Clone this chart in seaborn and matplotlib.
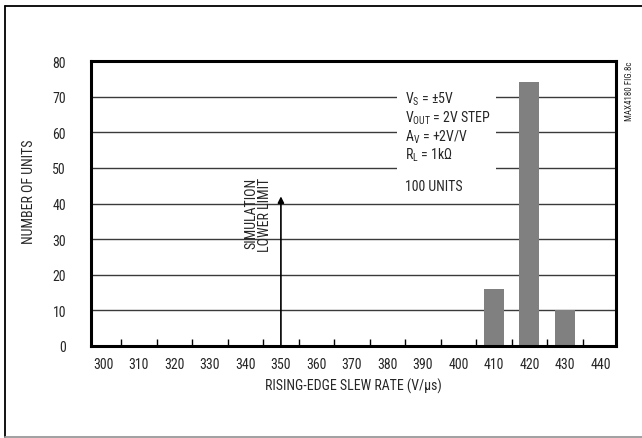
import matplotlib
matplotlib.use("Agg")
import matplotlib.pyplot as plt
import seaborn as sns
import numpy as np
from matplotlib.lines import Line2D
from matplotlib.patches import Rectangle
from matplotlib.ticker import FixedLocator
from matplotlib import font_manager

# ---- data ----
slew_rates = [410, 420, 430]
unit_counts = [16, 74, 10]
x_tick_labels = [300, 310, 320, 330, 340, 350, 360, 370, 380, 390, 400, 410, 420, 430, 440]
y_tick_labels = [0, 10, 20, 30, 40, 50, 60, 70, 80]
sim_lower_limit = 350
sim_arrow_top = 42
conditions = [r"V$_\mathregular{S}$ = ±5V",
              r"V$_\mathregular{OUT}$ = 2V STEP",
              r"A$_\mathregular{V}$ = +2V/V",
              r"R$_\mathregular{L}$ = 1kΩ"]
units_note = "100 UNITS"

sns.set_style("white")
names = {f.name for f in font_manager.fontManager.ttflist}
fams = [n for n in ['Roboto Condensed', 'Liberation Sans Narrow', 'Arial Narrow',
                    'Liberation Sans', 'DejaVu Sans'] if n in names or n == 'DejaVu Sans']
plt.rcParams['font.family'] = fams
plt.rcParams['mathtext.default'] = 'regular'
narrow = fams[0] in ('Roboto Condensed', 'Liberation Sans Narrow', 'Arial Narrow')
FS = 10 if narrow else 8.6

W, H = 642, 439
fig = plt.figure(figsize=(W / 100, H / 100), dpi=100)
ax = fig.add_axes([91 / W, 1 - 347 / H, (616 - 91) / W, (347 - 62) / H])

sns.barplot(x=slew_rates, y=unit_counts, native_scale=True, width=0.56,
            color='#808080', saturation=1, ax=ax, zorder=3, edgecolor='none')

ax.set_xlim(296.5, 444.4)
ax.set_ylim(0, 80)

for yv in y_tick_labels[1:-1]:
    ax.axhline(yv, color='#3a3a3a', lw=1.0, zorder=1)

ax.add_patch(Rectangle((382.7, 43), 28.0, 34, facecolor='white', edgecolor='none', zorder=2))

ax.xaxis.set_major_locator(FixedLocator(x_tick_labels))
ax.set_xticklabels([str(v) for v in x_tick_labels])
ax.xaxis.set_minor_locator(FixedLocator([v + 5 for v in x_tick_labels[:-1]]))
ax.tick_params(axis='x', which='major', length=0, pad=8, labelsize=FS)
ax.tick_params(axis='x', which='minor', direction='in', length=5, width=1, color='black', bottom=True)
ax.yaxis.set_major_locator(FixedLocator(y_tick_labels))
ax.set_yticklabels([str(v) for v in y_tick_labels])
ax.tick_params(axis='y', length=0, pad=18, labelsize=FS)
ax.set_xlabel("")
ax.set_ylabel("")

for s in ax.spines.values():
    s.set_visible(True)
    s.set_linewidth(2.2)
    s.set_color('black')
    s.set_zorder(5)

ax.annotate('', xy=(sim_lower_limit, sim_arrow_top), xytext=(sim_lower_limit, 0),
            arrowprops=dict(arrowstyle='-|>', color='black', lw=1.2, mutation_scale=9,
                            shrinkA=0, shrinkB=0), zorder=4)
ax.text(343.6, 47.5, "SIMULATION\nLOWER LIMIT", rotation=90, ha='center', va='top',
        multialignment='right', fontsize=FS, linespacing=1.0, zorder=4)

cond_y = [69.4, 64.2, 59.0, 53.7]
for t, yv in zip(conditions, cond_y):
    ax.text(385.0, yv, t, ha='left', va='center', fontsize=FS, zorder=4)
ax.text(385.0, 45.0, units_note, ha='left', va='center', fontsize=FS, zorder=4)

fig.text(29 / W, 1 - 192 / H, "NUMBER OF UNITS", rotation=90, ha='center', va='center', fontsize=FS)
fig.text(353 / W, 1 - 386 / H, "RISING-EDGE SLEW RATE (V/μs)", ha='center', va='center', fontsize=FS)
fig.text(630 / W, 1 - 91 / H, "MAX4180 FIG.8c", rotation=90, ha='center', va='center', fontsize=6.5)

fig.add_artist(Line2D([5 / W, 1.0], [1 - 7 / H, 1 - 7 / H], transform=fig.transFigure, color='black', lw=1.3))
fig.add_artist(Line2D([5 / W, 5 / W], [1 - 7 / H, 1 - 438 / H], transform=fig.transFigure, color='black', lw=1.3))
fig.add_artist(Line2D([5 / W, 1.0], [1 - 438 / H, 1 - 438 / H], transform=fig.transFigure, color='#999999', lw=1.3))

fig.savefig("out.png", dpi=100)
